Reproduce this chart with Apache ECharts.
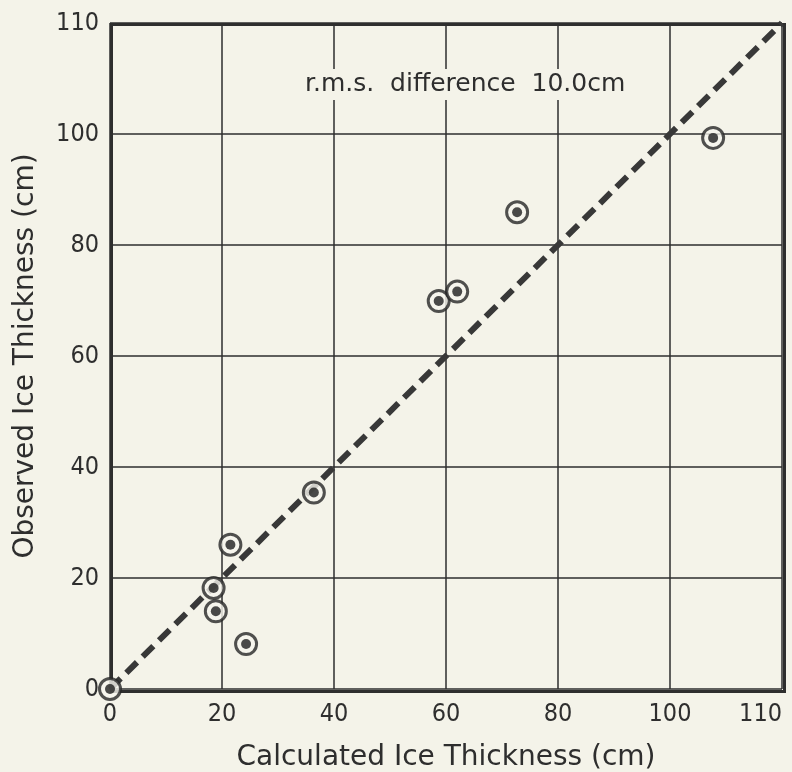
<!DOCTYPE html>
<html><head><meta charset="utf-8">
<script src="https://cdn.jsdelivr.net/npm/echarts@6/dist/echarts.min.js"></script>
<style>html,body{margin:0;padding:0;background:#f4f3e9;}#c{width:792px;height:772px;}</style>
</head><body><div id="c"></div>
<script>
// Tick labels as printed (the last tick is printed "110" in the original)
const xTickLabels = ['0','20','40','60','80','100','110'];
const yTickLabels = ['0','20','40','60','80','100','110'];
const calculated = [0, 18.5, 18.9, 21.5, 24.3, 36.4, 58.7, 62.0, 72.7, 107.7];
const observed   = [0, 18.2, 14.0, 26.0, 8.1, 35.4, 69.9, 71.6, 85.9, 99.3];
const refLineX = [0, 120];
const refLineY = [0, 120];
const annotation = 'r.m.s.  difference  10.0cm';
const xTitle = 'Calculated Ice Thickness (cm)';
const yTitle = 'Observed Ice Thickness (cm)';

const pts = calculated.map((x, i) => [x, observed[i]]);
const line = refLineX.map((x, i) => [x, refLineY[i]]);
const FONT = '"Liberation Sans Narrow","DejaVu Sans Condensed","Roboto Condensed",sans-serif';
const TFONT = '"DejaVu Sans",sans-serif';
const ink = '#2e2e2e';

const chart = echarts.init(document.getElementById('c'));
chart.setOption({
  backgroundColor: '#f4f3e9',
  animation: false,
  grid: {left: 110, right: 10, top: 23, bottom: 83, show: false, containLabel: false, outerBoundsMode: 'none'},
  xAxis: {
    type: 'value', min: 0, max: 120, interval: 20,
    name: xTitle, nameLocation: 'middle', nameGap: 55,
    nameTextStyle: {fontFamily: TFONT, fontSize: 28, color: ink},
    axisLine: {show: false},
    axisTick: {show: false},
    axisLabel: {margin: 13, fontFamily: FONT, fontSize: 25, color: ink, alignMaxLabel: 'right',
      formatter: (v) => xTickLabels[Math.round(v / 20)]},
    splitLine: {show: true, lineStyle: {color: ink, width: 1.5}}
  },
  yAxis: {
    type: 'value', min: 0, max: 120, interval: 20,
    name: yTitle, nameLocation: 'middle', nameGap: 70, nameRotate: 90,
    nameTextStyle: {fontFamily: TFONT, fontSize: 28, color: ink},
    axisLine: {show: false},
    axisTick: {show: false},
    axisLabel: {margin: 11, fontFamily: FONT, fontSize: 25, color: ink,
      formatter: (v) => yTickLabels[Math.round(v / 20)]},
    splitLine: {show: true, lineStyle: {color: ink, width: 1.5}}
  },
  graphic: [
    {type: 'rect', left: 109, top: 22, shape: {width: 673, height: 667},
     style: {fill: 'none', stroke: ink, lineWidth: 3}, z: 1, silent: true},
    {type: 'text', left: 299, top: 69, z: 100,
     style: {text: annotation, fontFamily: TFONT, fontSize: 25, fill: ink,
       backgroundColor: '#f4f3e9', padding: [3, 6]}}
  ],
  series: [
    {type: 'line', data: line, showSymbol: false, z: 2,
     lineStyle: {color: '#383838', width: 6, type: [15, 8]}},
    {type: 'scatter', data: pts, symbol: 'circle', symbolSize: 21, z: 3,
     itemStyle: {color: '#f6f5ee', borderColor: '#262626', borderWidth: 3}},
    {type: 'scatter', data: pts, symbol: 'circle', symbolSize: 10, z: 4,
     itemStyle: {color: '#1e1e1e'}}
  ]
});
</script></body></html>
